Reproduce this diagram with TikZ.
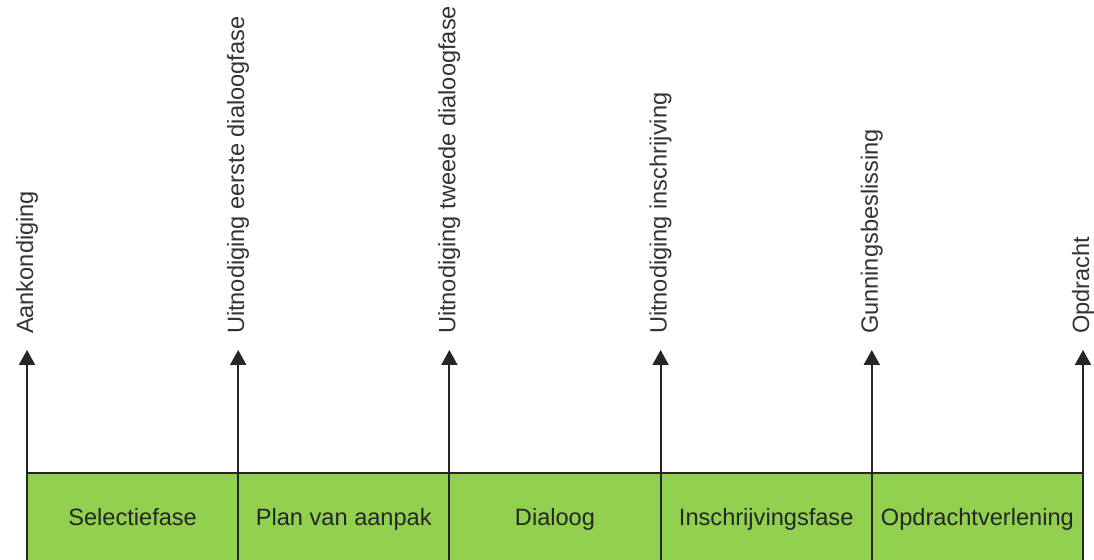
\documentclass[tikz,border=0pt]{standalone}
\usepackage{fontspec}
\setmainfont{Liberation Sans}
\usetikzlibrary{arrows.meta}

\definecolor{fasegroen}{RGB}{146,208,80}

\tikzset{
    fase/.style={draw=black!85, line width=1pt, fill=fasegroen, text=black!85,
        minimum width=105.6pt, minimum height=46pt, inner sep=0pt,
        text height=8.5pt, text depth=2.5pt, font=\fontsize{11.8}{14}\selectfont},
    pijl/.style={draw=black!85, line width=1pt, -{Triangle[width=8pt,length=7.5pt]}},
    mijlpaal/.style={rotate=90, anchor=west, inner xsep=7.5pt, inner ysep=0pt,
        text height=8.5pt, text depth=2.5pt, text=black!80, font=\fontsize{11.8}{14}\selectfont}
}

\begin{document}
\begin{tikzpicture}[x=0.5pt, y=0.5pt]

    \useasboundingbox (0,0) rectangle (1094,560);

    % fases onderaan
    \foreach \lbl [count=\i from 0] in {Selectiefase, Plan van aanpak, Dialoog, Inschrijvingsfase, Opdrachtverlening}
    \node[fase] (fase\i) at ({27+211.2*\i+105.6}, 40.5) {\lbl};

    % mijlpalen
    \foreach \lbl [count=\i from 0] in {Aankondiging, Uitnodiging eerste dialoogfase, Uitnodiging tweede dialoogfase,
        Uitnodiging inschrijving, Gunningsbeslissing, Opdracht}
    {
        \coordinate (voet\i) at ({27+211.2*\i}, -6);
        \coordinate (top\i) at ({27+211.2*\i}, 210);
        \draw[pijl] (voet\i) -- (top\i) node[mijlpaal] (mijl\i) {\lbl};
    }

\end{tikzpicture}
\end{document}
